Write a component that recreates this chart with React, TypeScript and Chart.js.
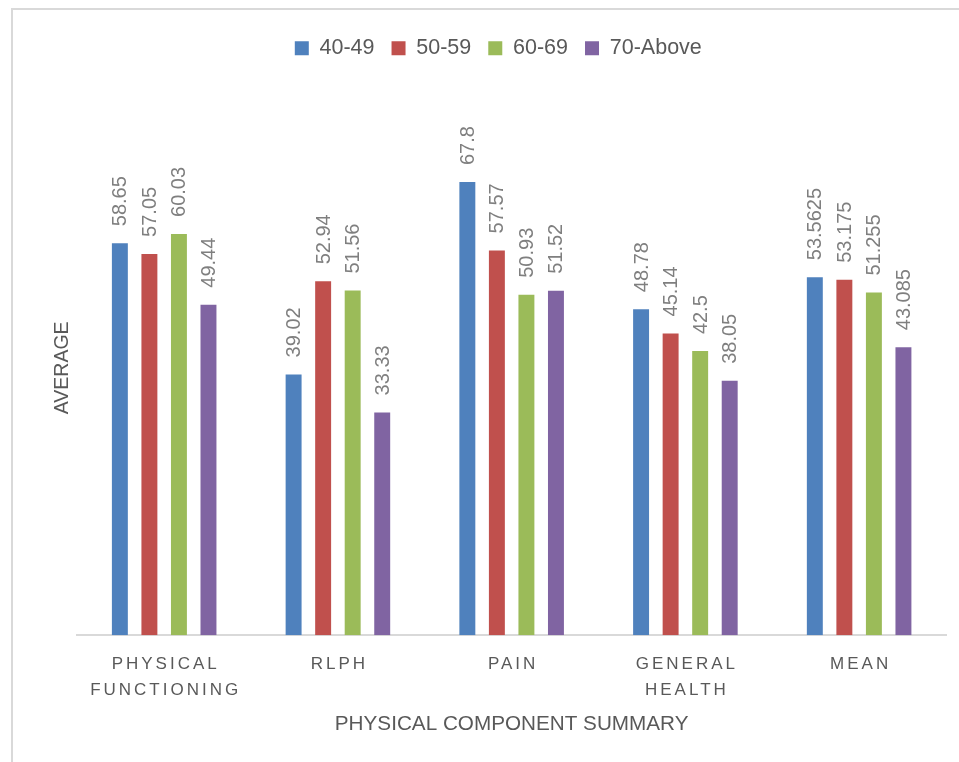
import React, { useEffect, useRef } from "react";
import { Chart, registerables, CategoryScale } from "chart.js";

Chart.register(...registerables);

class SpacedCategoryScale extends CategoryScale {
  static id = "spacedCategory";
  static defaults = CategoryScale.defaults;
  drawLabels(chartArea: any) {
    const ctx: any = this.ctx;
    ctx.save();
    ctx.letterSpacing = "3px";
    ctx.translate(1.5, 0);
    super.drawLabels(chartArea);
    ctx.restore();
  }
}
Chart.register(SpacedCategoryScale as any);

const categories: (string | string[])[] = [
  ["PHYSICAL", "FUNCTIONING"],
  "RLPH",
  "PAIN",
  ["GENERAL", "HEALTH"],
  "MEAN",
];
const seriesNames = ["40-49", "50-59", "60-69", "70-Above"];
const age4049 = [58.65, 39.02, 67.8, 48.78, 53.5625];
const age5059 = [57.05, 52.94, 57.57, 45.14, 53.175];
const age6069 = [60.03, 51.56, 50.93, 42.5, 51.255];
const age70Above = [49.44, 33.33, 51.52, 38.05, 43.085];
const seriesColors = ["#4F81BD", "#C0504D", "#9BBB59", "#8064A2"];
const yTitle = "AVERAGE";
const xTitle = "PHYSICAL COMPONENT SUMMARY";

const FONT = "'Liberation Sans', Arial, sans-serif";

const dataLabelPlugin = {
  id: "dataLabels",
  afterDatasetsDraw(chart: any) {
    const ctx = chart.ctx;
    chart.data.datasets.forEach((ds: any, di: number) => {
      const meta = chart.getDatasetMeta(di);
      meta.data.forEach((el: any, i: number) => {
        const v = ds.data[i];
        ctx.save();
        ctx.translate(el.x + 1, el.y - 17);
        ctx.rotate(-Math.PI / 2);
        ctx.font = `20px ${FONT}`;
        ctx.fillStyle = "#7f7f7f";
        ctx.textAlign = "left";
        ctx.textBaseline = "middle";
        ctx.fillText(String(v), 0, 0);
        ctx.restore();
      });
    });
  },
};

export default function App() {
  const ref = useRef<HTMLCanvasElement | null>(null);
  useEffect(() => {
    if (!ref.current) return;
    const all = [age4049, age5059, age6069, age70Above];
    const chart = new Chart(ref.current, {
      type: "bar",
      data: {
        labels: categories,
        datasets: all.map((d, i) => ({
          label: seriesNames[i],
          data: d,
          backgroundColor: seriesColors[i],
          borderWidth: 0,
          categoryPercentage: 0.68,
          barPercentage: 0.54,
        })),
      },
      options: {
        animation: false,
        responsive: false,
        maintainAspectRatio: false,
        layout: { padding: { top: 9.5, left: 37.6, right: 37, bottom: 0 } },
        plugins: {
          tooltip: { enabled: false },
          legend: {
            position: "top",
            labels: {
              boxWidth: 14,
              boxHeight: 14,
              padding: 17,
              color: "#595959",
              font: { family: FONT, size: 21.5 },
            },
          },
          title: {
            display: true,
            text: " ",
            weight: 500,
            padding: { top: 0, bottom: 19.5 },
            font: { size: 10 },
          } as any,
        },
        scales: {
          x: {
            type: "spacedCategory" as any,
            grid: { display: false, drawTicks: false },
            border: { display: true, color: "#d9d9d9", width: 2 },
            ticks: {
              padding: 16,
              color: "#595959",
              font: { family: FONT, size: 17, lineHeight: 26 / 17 },
              maxRotation: 0,
              autoSkip: false,
            },
            title: {
              display: true,
              text: xTitle,
              color: "#595959",
              font: { family: FONT, size: 20.7, lineHeight: 1.2 },
              padding: { top: -7, bottom: 4 },
            },
          },
          y: {
            min: 0,
            max: 80,
            grid: { display: false, drawTicks: false },
            border: { display: false },
            ticks: { display: false },
            title: {
              display: true,
              text: yTitle,
              color: "#595959",
              font: { family: FONT, size: 19.5, lineHeight: 1.2 },
              padding: { top: 0, bottom: 3.3 },
            },
          },
        },
      },
      plugins: [dataLabelPlugin],
    });
    return () => chart.destroy();
  }, []);

  return (
    <div
      style={{
        position: "fixed",
        left: 0,
        top: 0,
        width: 959,
        height: 762,
        overflow: "hidden",
        background: "#ffffff",
      }}
    >
      <div
        style={{
          position: "absolute",
          left: 11,
          top: 8,
          width: 1000,
          height: 800,
          borderLeft: "2px solid #d9d9d9",
          borderTop: "2px solid #d9d9d9",
        }}
      >
        <canvas
          ref={ref}
          width={970}
          height={730}
          style={{ position: "absolute", left: 0, top: 1, width: 970, height: 730 }}
        />
      </div>
    </div>
  );
}
